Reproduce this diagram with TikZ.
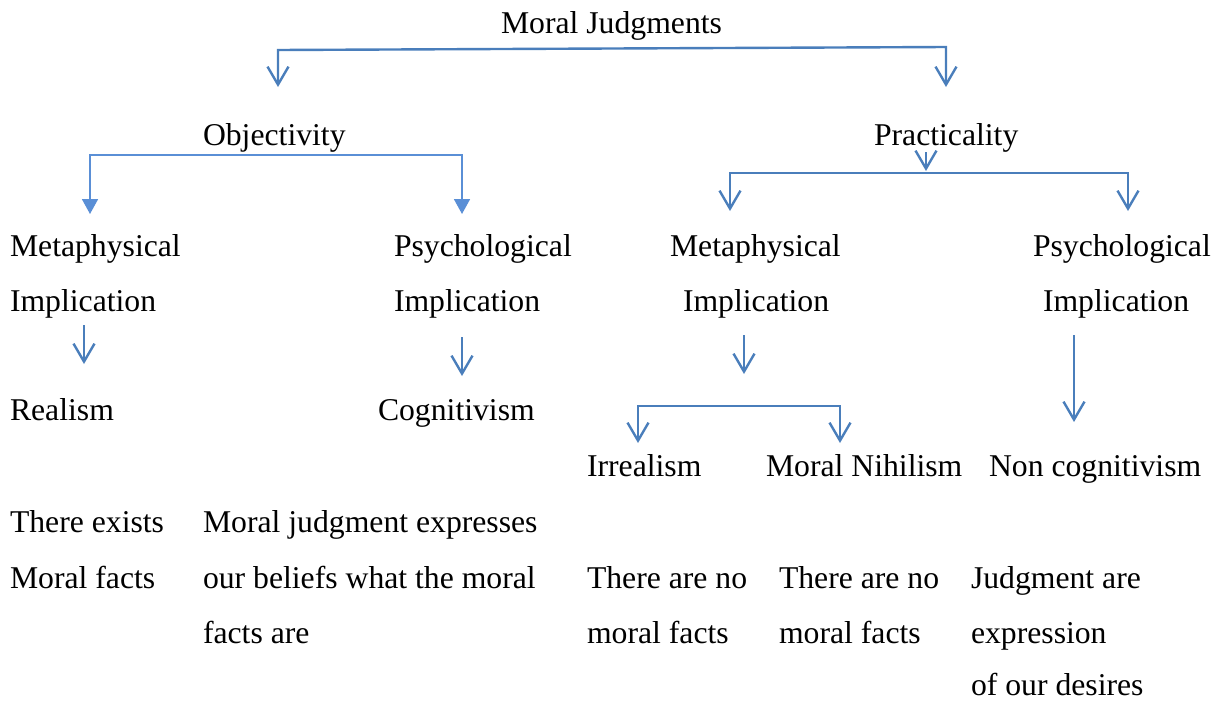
\documentclass[tikz,border=0pt]{standalone}
\usepackage{fontspec}
\setmainfont{Liberation Serif}
\usetikzlibrary{arrows.meta}
\definecolor{arrblue}{HTML}{4A7EBB}
\definecolor{litblue}{HTML}{5A8FD6}
\begin{document}
\begin{tikzpicture}[x=1pt,y=-1pt,
  txt/.style={anchor=base west,inner sep=0pt,outer sep=0pt,font=\fontsize{31.7pt}{38pt}\selectfont},
  barb/.style={draw=arrblue,line width=2.4pt,-{Straight Barb[length=18pt,width=21pt]}},
  barbs/.style={draw=arrblue,line width=2.4pt,{Straight Barb[length=18pt,width=21pt]}-{Straight Barb[length=18pt,width=21pt]}},
  tris/.style={draw=litblue,line width=1.8pt,{Triangle[length=15pt,width=16pt]}-{Triangle[length=15pt,width=16pt]},fill=none}]
\useasboundingbox (0,0) rectangle (1220,702);

% texts
\node[txt] (mj) at (501,33) {Moral Judgments};
\node[txt] (obj) at (203,145) {Objectivity};
\node[txt] (pra) at (874,145) {Practicality};
\node[txt] (lm1) at (10,256) {Metaphysical};
\node[txt] (lm2) at (10,311) {Implication};
\node[txt] (lp1) at (394,256) {Psychological};
\node[txt] (lp2) at (394,311) {Implication};
\node[txt] (rm1) at (670,256) {Metaphysical};
\node[txt] (rm2) at (683,311) {Implication};
\node[txt] (rp1) at (1033,256) {Psychological};
\node[txt] (rp2) at (1043,311) {Implication};
\node[txt] (real) at (10,420) {Realism};
\node[txt] (cog) at (378,420) {Cognitivism};
\node[txt] (irr) at (587,476) {Irrealism};
\node[txt] (nih) at (766,476) {Moral Nihilism};
\node[txt] (ncog) at (989,476) {Non cognitivism};
\node[txt] (d1a) at (10,532) {There exists};
\node[txt] (d1b) at (10,588) {Moral facts};
\node[txt] (d2a) at (203,532) {Moral judgment expresses};
\node[txt] (d2b) at (203,588) {our beliefs what the moral};
\node[txt] (d2c) at (203,643) {facts are};
\node[txt] (d3a) at (587,588) {There are no};
\node[txt] (d3b) at (587,643) {moral facts};
\node[txt] (d4a) at (779,588) {There are no};
\node[txt] (d4b) at (779,643) {moral facts};
\node[txt] (d5a) at (971,588) {Judgment are};
\node[txt] (d5b) at (971,643) {expression};
\node[txt] (d5c) at (971,695) {of our desires};

% connector points
\coordinate (t1) at (278,87);
\coordinate (t2) at (278,50);
\coordinate (t3) at (946,47);
\coordinate (t4) at (946,87);

\coordinate (o1) at (90,214);
\coordinate (o2) at (90,155);
\coordinate (o3) at (462,155);
\coordinate (o4) at (462,214);

\coordinate (ps) at (926,152);
\coordinate (pe) at (926,171);
\coordinate (p1) at (730,211);
\coordinate (p2) at (730,173);
\coordinate (p3) at (1128,173);
\coordinate (p4) at (1128,211);

\coordinate (a1s) at (84,325);
\coordinate (a1e) at (84,364);
\coordinate (a2s) at (462,337);
\coordinate (a2e) at (462,376);
\coordinate (a3s) at (744,335);
\coordinate (a3e) at (744,374);
\coordinate (b1) at (638,443);
\coordinate (b2) at (638,406);
\coordinate (b3) at (840,406);
\coordinate (b4) at (840,443);
\coordinate (a4s) at (1074,335);
\coordinate (a4e) at (1074,422);

% connectors
\draw[barbs] (t1) -- (t2) -- (t3) -- (t4);
\draw[tris] (o1) -- (o2) -- (o3) -- (o4);
\draw[barb] (ps) -- (pe);
\draw[barbs] (p1) -- (p2) -- (p3) -- (p4);
\draw[barb] (a1s) -- (a1e);
\draw[barb] (a2s) -- (a2e);
\draw[barb] (a3s) -- (a3e);
\draw[barbs] (b1) -- (b2) -- (b3) -- (b4);
\draw[barb] (a4s) -- (a4e);
\end{tikzpicture}
\end{document}
